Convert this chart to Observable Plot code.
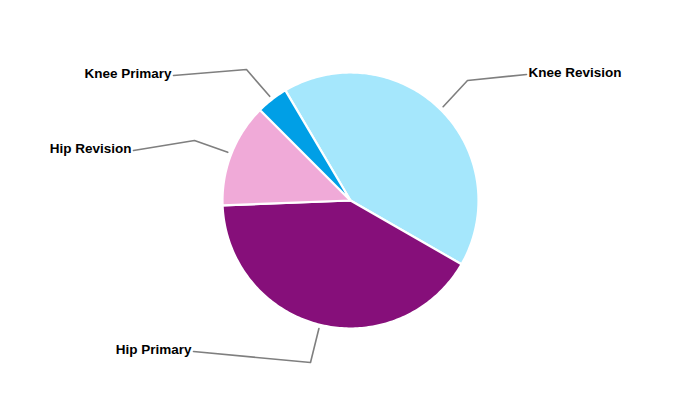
<!DOCTYPE html>
<html>
<head>
<meta charset="utf-8">
<script src="https://cdn.jsdelivr.net/npm/d3@7"></script>
<script src="https://cdn.jsdelivr.net/npm/@observablehq/plot@0.6"></script>
<style>
  html, body { margin: 0; padding: 0; background: #fff; }
  #chart svg { display: block; }
</style>
</head>
<body>
<div id="chart"></div>
<script>
// ---- data ----
const categories = ["Knee Revision", "Hip Primary", "Hip Revision", "Knee Primary"];
const values = [41.8, 41.1, 13.1, 4.0];
const colors = ["#a5e7fc", "#860f7a", "#f0aad8", "#009fe6"];

// ---- layout ----
const W = 700, H = 400, CX = 350, CY = 200, R = 128;
const startDeg = -30.6; // clockwise from 12 o'clock
// elbow and label end points in pixels (layout only)
const labelLayout = {
  "Knee Revision": { elbow: [467, 80], end: [526, 74], anchor: "start" },
  "Hip Primary":   { elbow: [310, 362], end: [193, 351], anchor: "end" },
  "Hip Revision":  { elbow: [194, 140], end: [133, 150], anchor: "end" },
  "Knee Primary":  { elbow: [246, 69], end: [173, 75], anchor: "end" }
};
const px = (p) => [(p[0] - CX) / R, (CY - p[1]) / R];

const total = d3.sum(values);
const slicePts = [];
const leaderPts = [];
const labels = [];
let a0 = startDeg;
categories.forEach((name, i) => {
  const span = values[i] / total * 360;
  const a1 = a0 + span;
  slicePts.push({ name, x: 0, y: 0, k: 0 });
  const n = Math.max(4, Math.ceil(span));
  for (let j = 0; j <= n; j++) {
    const a = (a0 + span * j / n) * Math.PI / 180;
    slicePts.push({ name, x: Math.sin(a), y: Math.cos(a), k: j + 1 });
  }
  slicePts.push({ name, x: 0, y: 0, k: n + 2 });
  const mid = (a0 + span / 2) * Math.PI / 180;
  const L = labelLayout[name];
  const e = px(L.elbow), t = px(L.end);
  leaderPts.push({ name, x: 1.03 * Math.sin(mid), y: 1.03 * Math.cos(mid) });
  leaderPts.push({ name, x: e[0], y: e[1] });
  leaderPts.push({ name, x: t[0], y: t[1] });
  const dx = L.anchor === "start" ? 2 / R : -2 / R;
  labels.push({ name, x: t[0] + dx, y: t[1], anchor: L.anchor });
  a0 = a1;
});

const plot = Plot.plot({
  width: W,
  height: H,
  margin: 0,
  x: { domain: [-CX / R, (W - CX) / R], axis: null },
  y: { domain: [-(H - CY) / R, CY / R], axis: null },
  color: { domain: categories, range: colors },
  style: { fontFamily: "'Liberation Sans', Arial, sans-serif", background: "#fff" },
  marks: [
    Plot.line(slicePts, {
      x: "x", y: "y", z: "name", fill: "name",
      stroke: "white", strokeWidth: 2.2, strokeLinejoin: "round", curve: "linear"
    }),
    Plot.line(leaderPts, {
      x: "x", y: "y", z: "name", stroke: "#7f7f7f", strokeWidth: 1.6
    }),
    Plot.text(labels.filter(d => d.anchor === "start"), {
      x: "x", y: "y", text: "name", textAnchor: "start", dy: -1.5,
      fontSize: 13.5, fontWeight: "bold", fill: "#000"
    }),
    Plot.text(labels.filter(d => d.anchor === "end"), {
      x: "x", y: "y", text: "name", textAnchor: "end", dy: -1.5,
      fontSize: 13.5, fontWeight: "bold", fill: "#000"
    })
  ]
});
document.getElementById("chart").appendChild(plot);
</script>
</body>
</html>
